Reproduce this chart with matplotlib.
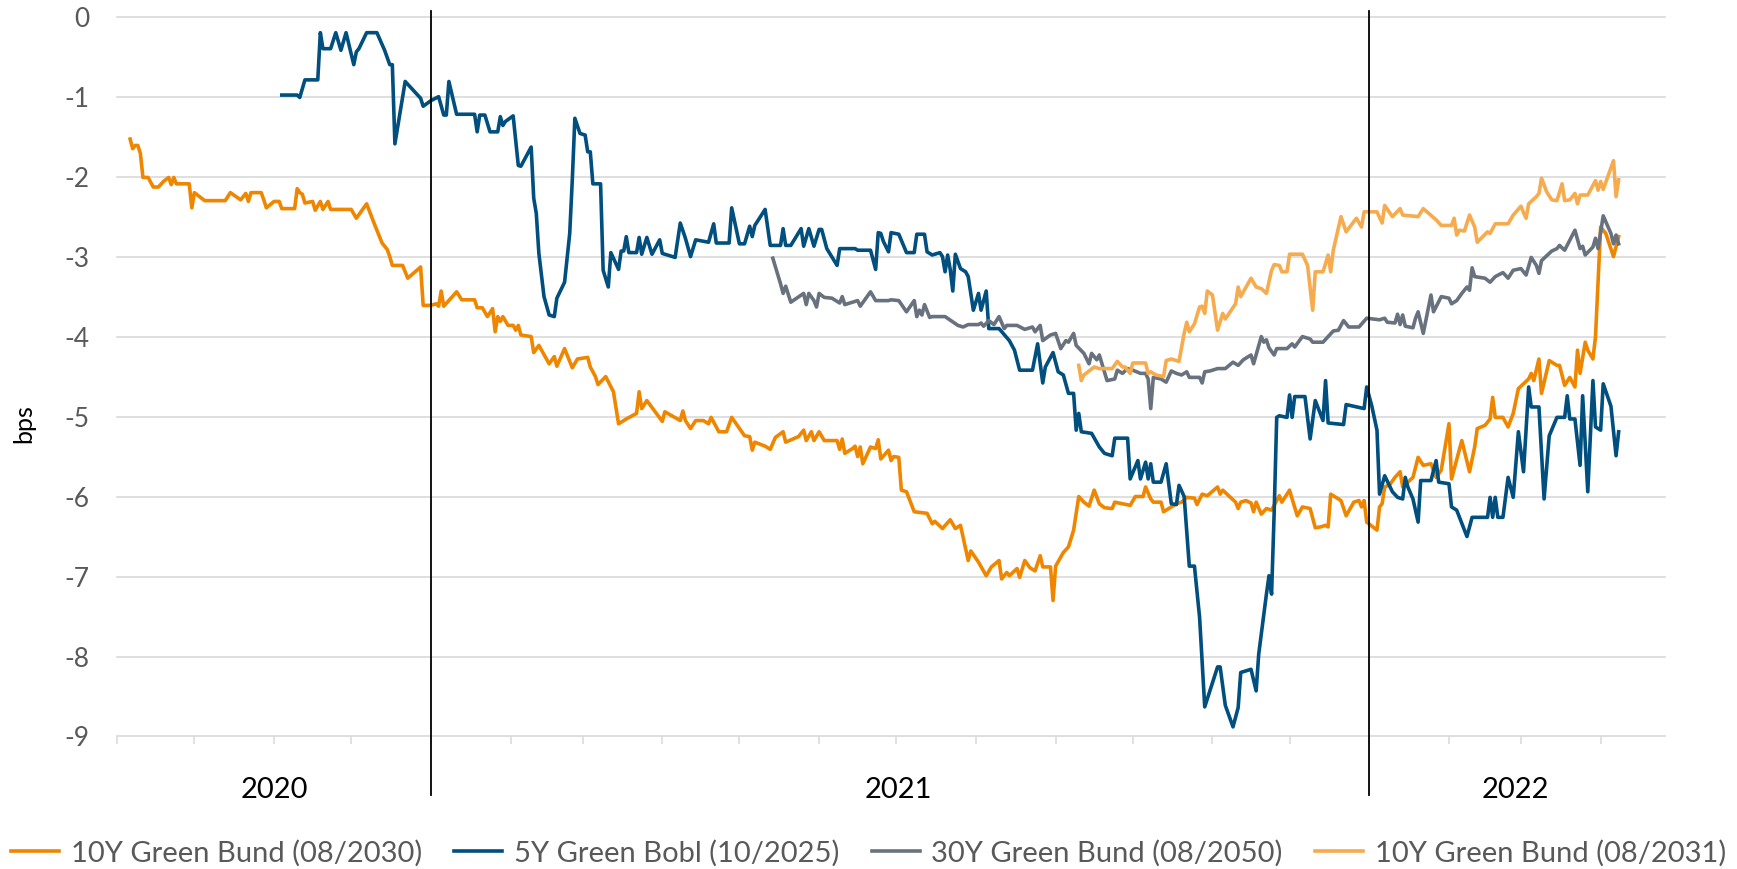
import numpy as np
import matplotlib.pyplot as plt
import matplotlib.dates as mdates

plt.rcParams['font.family'] = ['Lato', 'DejaVu Sans']
plt.rcParams['axes.unicode_minus'] = False

# x values are calendar day offsets from 2020-09-01
base = np.datetime64('2020-09-01')

days_2030 = [5, 6, 7, 8, 9, 10, 12, 14, 16, 18, 20, 21, 22, 23, 28, 29, 30, 34, 42, 44, 48, 50, 51, 52, 56, 57, 58, 61, 63, 64,
             69, 70, 71, 72, 73, 76, 77, 79, 80, 82, 83, 91, 93, 97, 100, 103, 105, 106, 107, 111, 113, 118, 119, 122, 124,
             125, 126, 127, 132, 134, 139, 140, 142, 144, 146, 147, 148, 149, 150, 152, 154, 155, 156, 157,
             161, 162, 164, 168, 170, 171, 174, 177, 179, 183, 184, 186, 187, 190, 193, 195, 198, 202, 203, 204, 206, 212,
             213, 219, 220, 221, 223, 225, 228, 230, 231, 234, 237, 239, 244, 246, 247, 248, 252, 254, 256, 259, 260, 265,
             267, 268, 270, 271, 273, 275, 280, 281, 282, 283, 286, 287, 288, 289, 290, 293, 295, 296, 297, 300, 301, 302,
             304, 305, 307, 310, 315, 317, 318, 321, 324, 326, 328, 331, 332, 335, 338, 340, 343, 344, 346, 347, 350, 351,
             353, 355, 357, 359, 360, 363, 364, 365, 368, 370, 372, 374, 376, 378, 380, 382, 384, 387, 388, 394, 396, 399,
             400, 402, 403, 406, 407, 410, 412, 414, 416, 419, 420, 422, 424, 428, 429, 430, 433, 435, 436, 437, 439, 441,
             442, 443, 445, 447, 449, 452, 453, 456, 457, 459, 461, 464, 466, 468, 470, 471, 472, 476, 478, 481, 483, 484,
             485, 486, 490, 491, 492, 493, 495, 497, 499, 500, 504, 506, 508, 511, 513, 515, 518, 519, 523, 526, 528, 529,
             532, 534, 535, 536, 539, 541, 543, 545, 547, 549, 550, 551, 553, 554, 557, 560, 561, 563, 565, 567, 568, 569,
             571, 572, 574, 575, 577, 579, 582, 584]
vals_2030 = [-1.53, -1.65, -1.61, -1.61, -1.71, -2.01, -2.01, -2.13, -2.13, -2.06, -2.01, -2.10, -2.01, -2.09, -2.09,
             -2.39, -2.20, -2.30, -2.30, -2.20, -2.29, -2.21, -2.31, -2.20, -2.20, -2.29, -2.39, -2.31, -2.31, -2.40,
             -2.40, -2.15, -2.20, -2.22, -2.33, -2.31, -2.42, -2.31, -2.41, -2.31, -2.41, -2.41, -2.52, -2.34, -2.59,
             -2.83, -2.91, -3.00, -3.11, -3.11, -3.27, -3.13, -3.61, -3.61, -3.59, -3.62, -3.43, -3.62, -3.44, -3.54,
             -3.54, -3.64, -3.64, -3.75, -3.65, -3.94, -3.75, -3.81, -3.75, -3.86, -3.86, -3.92, -3.86, -3.98,
             -4.00, -4.20, -4.11, -4.34, -4.25, -4.37, -4.15, -4.39, -4.28, -4.26, -4.38, -4.50, -4.60, -4.50, -4.69,
             -5.09, -5.03, -4.96, -4.69, -4.90, -4.80, -5.06, -4.94, -5.05, -4.93, -5.05, -5.15, -5.05, -5.05, -5.09,
             -5.01, -5.19, -5.19, -5.01, -5.24, -5.25, -5.42, -5.32, -5.37, -5.41, -5.26, -5.19, -5.32, -5.25, -5.17,
             -5.30, -5.19, -5.30, -5.19, -5.30, -5.30, -5.41, -5.28, -5.46, -5.40, -5.37, -5.50, -5.38, -5.59, -5.38,
             -5.40, -5.29, -5.53, -5.42, -5.55, -5.50, -5.51, -5.92, -5.94, -6.19, -6.21, -6.34, -6.31, -6.40, -6.29,
             -6.40, -6.36, -6.80, -6.68, -6.82, -6.99, -6.88, -6.80, -7.03, -6.95, -6.99, -6.90, -7.01, -6.80, -6.89,
             -6.93, -6.74, -6.88, -6.88, -7.30, -6.87, -6.70, -6.63, -6.42, -6.00, -6.07, -6.12, -5.92, -6.09, -6.14,
             -6.15, -6.07, -6.11, -6.00, -6.00, -5.88, -6.03, -6.07, -6.07, -6.19, -6.13, -6.09, -6.07, -6.01, -6.02,
             -6.10, -5.97, -5.99, -5.88, -5.97, -5.92, -6.01, -6.07, -6.15, -6.07, -6.05, -6.08, -6.19, -6.07, -6.22,
             -6.15, -6.17, -5.99, -6.07, -5.92, -6.03, -6.24, -6.13, -6.15, -6.39, -6.38, -6.36, -6.38, -5.97, -6.05,
             -6.24, -6.07, -6.05, -6.13, -6.05, -6.32, -6.42, -6.13, -6.09, -5.88, -5.85, -5.76, -5.69, -5.88, -5.76,
             -5.51, -5.61, -5.59, -5.76, -5.67, -5.09, -5.78, -5.30, -5.69, -5.38, -5.15, -5.11, -5.03, -4.76, -5.01,
             -5.01, -5.13, -4.96, -4.65, -4.59, -4.53, -4.46, -4.55, -4.28, -4.71, -4.30, -4.36, -4.36, -4.61, -4.51,
             -4.63, -4.17, -4.46, -4.07, -4.17, -4.28, -4.00, -2.63, -2.71, -3.00, -2.75]

days_bobl = [64, 70, 71, 73, 78, 79, 80, 83, 85, 87, 89, 92, 93, 94, 97, 101, 104, 106, 107, 108, 111, 112, 118, 119, 122,
             125, 127, 128, 129, 132, 139, 140, 141, 143, 145, 148, 149, 150, 151, 154, 156, 157, 161,
             162, 163, 164, 166, 168, 170, 171, 174, 176, 177, 178, 180, 182, 183, 184, 185, 188, 189, 191, 192, 195,
             196, 197, 198, 199, 202, 203, 204, 206, 208, 211, 212, 217, 219, 221, 223, 225, 230, 232, 233, 238, 239,
             242, 244, 246, 247, 248, 252, 254, 258, 259, 260, 262, 266, 267, 269, 271, 273, 274, 276, 280, 281, 287,
             288, 293, 295, 296, 297, 298, 300, 301, 304, 307, 310, 311, 314, 315, 317, 320, 321, 322, 323, 324, 325,
             326, 328, 330, 331, 333, 335, 336, 338, 339, 343, 347, 349, 351, 356, 358, 360, 361, 364, 366, 368, 370,
             372, 373, 374, 375, 379, 382, 384, 387, 388, 393, 394, 397, 398, 400, 401, 402, 403, 406, 408, 409, 410,
             412, 413, 415, 417, 419, 421, 423, 425, 428, 429, 431, 434, 436, 437, 441, 443, 444, 447, 448, 449, 450,
             451, 452, 455, 456, 457, 458, 462, 464, 466, 469, 470, 471, 477, 478, 485, 486, 488, 490, 491, 493, 496,
             498, 500, 501, 502, 504, 506, 507, 511, 513, 514, 518, 519, 521, 525, 527, 533, 534, 535, 536, 537, 539,
             541, 543, 545, 547, 549, 550, 553, 555, 557, 560, 563, 564, 565, 567, 569, 570, 572, 574, 575, 577, 578,
             581, 583, 584]
vals_bobl = [-0.98, -0.98, -1.01, -0.79, -0.79, -0.20, -0.40, -0.40, -0.20, -0.42, -0.20, -0.60, -0.44, -0.40, -0.20,
             -0.20, -0.42, -0.60, -0.60, -1.59, -1.00, -0.81, -1.02, -1.12, -1.05, -1.00, -1.23, -1.23, -0.81, -1.22,
             -1.22, -1.44, -1.23, -1.23, -1.44, -1.44, -1.25, -1.36, -1.31, -1.24, -1.86, -1.87, -1.63,
             -2.27, -2.46, -2.96, -3.50, -3.73, -3.75, -3.52, -3.32, -2.71, -2.04, -1.27, -1.46, -1.48, -1.69, -1.69,
             -2.09, -2.09, -3.17, -3.38, -2.95, -3.16, -2.93, -2.93, -2.75, -2.95, -2.95, -2.76, -2.97, -2.76, -2.97,
             -2.79, -2.96, -3.01, -2.58, -2.77, -3.00, -2.79, -2.82, -2.59, -2.83, -2.83, -2.39, -2.84, -2.84, -2.62,
             -2.75, -2.61, -2.41, -2.86, -2.86, -2.65, -2.86, -2.86, -2.65, -2.87, -2.65, -2.87, -2.66, -2.66, -2.90,
             -3.11, -2.90, -2.90, -2.92, -2.92, -3.16, -2.70, -2.71, -2.81, -2.94, -2.70, -2.72, -2.95, -2.95, -2.72,
             -2.72, -2.94, -2.98, -2.95, -3.00, -3.19, -2.98, -3.16, -3.43, -2.97, -3.15, -3.19, -3.25, -3.67, -3.46,
             -3.67, -3.43, -3.90, -3.90, -4.05, -4.17, -4.42, -4.42, -4.09, -4.58, -4.38, -4.20, -4.44, -4.48, -4.71,
             -4.71, -5.17, -4.96, -5.19, -5.21, -5.38, -5.46, -5.49, -5.27, -5.27, -5.78, -5.55, -5.78, -5.57, -5.78,
             -5.59, -5.82, -5.82, -5.59, -5.84, -6.09, -6.10, -5.86, -6.00, -6.87, -6.87, -7.51, -8.63, -8.43, -8.13,
             -8.13, -8.61, -8.88, -8.64, -8.20, -8.16, -8.43, -7.97, -7.22, -6.99, -7.22, -6.21, -5.01, -4.99, -5.01,
             -4.73, -5.01, -4.75, -4.75, -5.28, -4.80, -5.05, -4.55, -5.08, -5.10, -4.85, -4.90, -4.63, -4.87, -5.17,
             -5.97, -5.74, -5.94, -6.01, -6.03, -5.76, -5.88, -6.03, -6.32, -5.80, -5.80, -5.55, -5.82, -5.84, -6.13,
             -6.17, -6.50, -6.26, -6.26, -6.01, -6.26, -6.01, -6.26, -6.26, -5.76, -6.01, -5.19, -5.69, -4.63, -4.88,
             -4.88, -6.03, -5.24, -5.01, -5.01, -4.74, -5.03, -5.03, -5.61, -4.74, -5.94, -4.55, -5.13, -5.17, -4.59,
             -4.87, -5.49, -5.19]

days_2050 = [255, 258, 259, 260, 262, 267, 268, 269, 271, 272, 273, 275, 278, 281, 282, 283, 286, 288, 289, 293, 295, 300,
             301, 304, 307, 310, 311, 312, 313, 314, 316, 317, 322, 327, 329, 331, 335, 336, 337, 339, 341, 343, 345,
             346, 350, 353, 356, 357, 359, 360, 363, 365, 367, 369, 370, 372, 373, 376, 378, 379, 381, 382, 385, 388,
             389, 391, 393, 395, 398, 400, 401, 402, 403, 406, 408, 410, 412, 414, 416, 417, 421, 422, 423, 425, 428,
             431, 434, 436, 438, 441, 442, 445, 446, 447, 448, 450, 451, 455, 457, 458, 461, 464, 465, 468, 469, 471,
             473, 475, 477, 479, 483, 486, 491, 493, 494, 497, 498, 499, 500, 501, 504, 505, 506, 508, 511, 512, 515,
             518, 519, 521, 523, 525, 526, 527, 528, 532, 534, 536, 539, 541, 543, 546, 548, 550, 552, 553, 554, 558,
             560, 561, 563, 567, 569, 570, 571, 574, 575, 576, 578, 581, 582, 583, 584]
vals_2050 = [-3.02, -3.34, -3.46, -3.37, -3.57, -3.46, -3.60, -3.46, -3.55, -3.63, -3.46, -3.51, -3.52, -3.58, -3.50,
             -3.60, -3.57, -3.55, -3.62, -3.44, -3.55, -3.55, -3.54, -3.55, -3.69, -3.55, -3.75, -3.67, -3.73, -3.60,
             -3.76, -3.75, -3.75, -3.86, -3.88, -3.85, -3.85, -3.83, -3.87, -3.80, -3.85, -3.75, -3.90, -3.86, -3.86,
             -3.91, -3.88, -3.94, -3.86, -4.05, -3.98, -3.96, -4.15, -4.05, -4.07, -3.96, -4.11, -4.21, -4.34, -4.21,
             -4.29, -4.23, -4.55, -4.53, -4.42, -4.46, -4.40, -4.42, -4.46, -4.46, -4.53, -4.90, -4.51, -4.53, -4.57,
             -4.43, -4.46, -4.48, -4.44, -4.51, -4.51, -4.58, -4.44, -4.43, -4.40, -4.40, -4.32, -4.36, -4.29, -4.23,
             -4.34, -4.00, -4.07, -4.04, -4.14, -4.23, -4.15, -4.15, -4.09, -4.13, -4.00, -4.03, -4.07, -4.07, -4.07,
             -4.00, -3.93, -3.92, -3.80, -3.88, -3.88, -3.77, -3.79, -3.77, -3.82, -3.83, -3.72, -3.85, -3.73, -3.87,
             -3.89, -3.77, -3.69, -3.96, -3.48, -3.69, -3.50, -3.52, -3.59, -3.55, -3.46, -3.38, -3.42, -3.14, -3.25,
             -3.27, -3.32, -3.25, -3.20, -3.27, -3.17, -3.15, -3.23, -3.01, -3.11, -3.21, -3.05, -2.93, -2.90, -2.86,
             -2.92, -2.67, -2.90, -2.87, -2.98, -2.88, -2.77, -2.90, -2.49, -2.71, -2.84, -2.73, -2.84]

days_2031 = [374, 375, 376, 380, 382, 387, 389, 391, 392, 394, 395, 400, 401, 402, 404, 407, 408, 410, 413, 415, 416, 417,
             419, 421, 422, 423, 424, 426, 428, 430, 431, 435, 436, 437, 441, 443, 445, 447, 449, 450, 452, 453, 455,
             456, 461, 463, 465, 466, 469, 471, 472, 473, 476, 478, 482, 484, 485, 490, 492, 493, 496, 499, 500, 506,
             508, 513, 515, 519, 520, 521, 522, 524, 526, 528, 529, 533, 534, 536, 541, 543, 546, 547, 548, 549, 552,
             553, 554, 556, 558, 560, 562, 563, 565, 567, 568, 569, 572, 575, 576, 577, 578, 580, 582, 583, 584]
vals_2031 = [-4.36, -4.55, -4.48, -4.38, -4.40, -4.40, -4.31, -4.38, -4.38, -4.46, -4.33, -4.33, -4.46, -4.44, -4.48,
             -4.50, -4.30, -4.28, -4.31, -3.96, -3.82, -3.94, -3.84, -3.63, -3.62, -3.71, -3.43, -3.48, -3.92, -3.71,
             -3.78, -3.59, -3.38, -3.50, -3.27, -3.38, -3.40, -3.46, -3.17, -3.10, -3.11, -3.19, -3.19, -2.97, -2.97,
             -3.11, -3.67, -3.19, -3.19, -2.98, -3.19, -2.92, -2.50, -2.69, -2.52, -2.63, -2.44, -2.44, -2.58, -2.36,
             -2.50, -2.40, -2.48, -2.50, -2.40, -2.54, -2.61, -2.61, -2.52, -2.73, -2.67, -2.68, -2.48, -2.63, -2.82,
             -2.69, -2.71, -2.59, -2.59, -2.48, -2.37, -2.45, -2.52, -2.34, -2.25, -2.21, -2.02, -2.19, -2.29, -2.30,
             -2.09, -2.30, -2.29, -2.21, -2.34, -2.23, -2.23, -2.05, -2.17, -2.06, -2.16, -1.98, -1.80, -2.25, -2.04]

series = [
    ('10Y Green Bund (08/2030)', days_2030, vals_2030, '#EF8600'),
    ('5Y Green Bobl (10/2025)', days_bobl, vals_bobl, '#004F7F'),
    ('30Y Green Bund (08/2050)', days_2050, vals_2050, '#68727F'),
    ('10Y Green Bund (08/2031)', days_2031, vals_2031, '#F6AB4E'),
]

year_edges = [np.datetime64('2020-09-01'), np.datetime64('2021-01-01'),
              np.datetime64('2022-01-01'), np.datetime64('2022-04-26')]
year_labels = ['2020', '2021', '2022']

fig = plt.figure(figsize=(17.37, 8.69), dpi=100)
ax = fig.add_axes([0.0675, 0.1525, 0.891, 0.8283])

for name, d, v, c in series:
    x = base + np.array(d).astype('timedelta64[D]')
    ax.plot(x.astype('datetime64[D]').astype(object), v, color=c, lw=2.6, label=name,
            solid_joinstyle='round')

ax.set_xlim(year_edges[0].astype(object), year_edges[-1].astype(object))
ax.set_ylim(-9, 0)
ax.set_yticks(range(-9, 1))
ax.set_yticklabels([str(t) for t in range(-9, 1)])
for t in range(-9, 1):
    ax.axhline(t, color='#d9d9d9', lw=1.2, zorder=0, clip_on=False)

for s in ax.spines.values():
    s.set_visible(False)

ax.xaxis.set_major_locator(mdates.MonthLocator())
ax.xaxis.set_major_formatter(plt.NullFormatter())
ax.tick_params(axis='x', length=6, width=1.1, color='#d9d9d9', direction='out')
ax.tick_params(axis='y', length=0, pad=20, labelsize=19, labelcolor='#595959')

# year separators and year labels under the axis
trans = ax.get_xaxis_transform()
for edge in year_edges[1:3]:
    ax.axvline(edge.astype(object), ymin=-0.081, ymax=1.008, color='black', lw=1.3, clip_on=False)
for i, lab in enumerate(year_labels):
    mid = year_edges[i] + (year_edges[i + 1] - year_edges[i]) / 2
    ax.text(mid.astype('datetime64[D]').astype(object), -0.074, lab, transform=trans,
            ha='center', va='center', fontsize=21, color='black')

fig.text(24 / 1737, 1 - 424 / 869, 'bps', rotation=90, ha='center', va='center', fontsize=18)

fig.legend(loc='center', bbox_to_anchor=(0.5, 0.0184), ncol=4, frameon=False,
           fontsize=21, labelcolor='#595959', handlelength=1.65, handletextpad=0.4,
           columnspacing=1.1, borderaxespad=0)

fig.savefig('out.png', dpi=100)
